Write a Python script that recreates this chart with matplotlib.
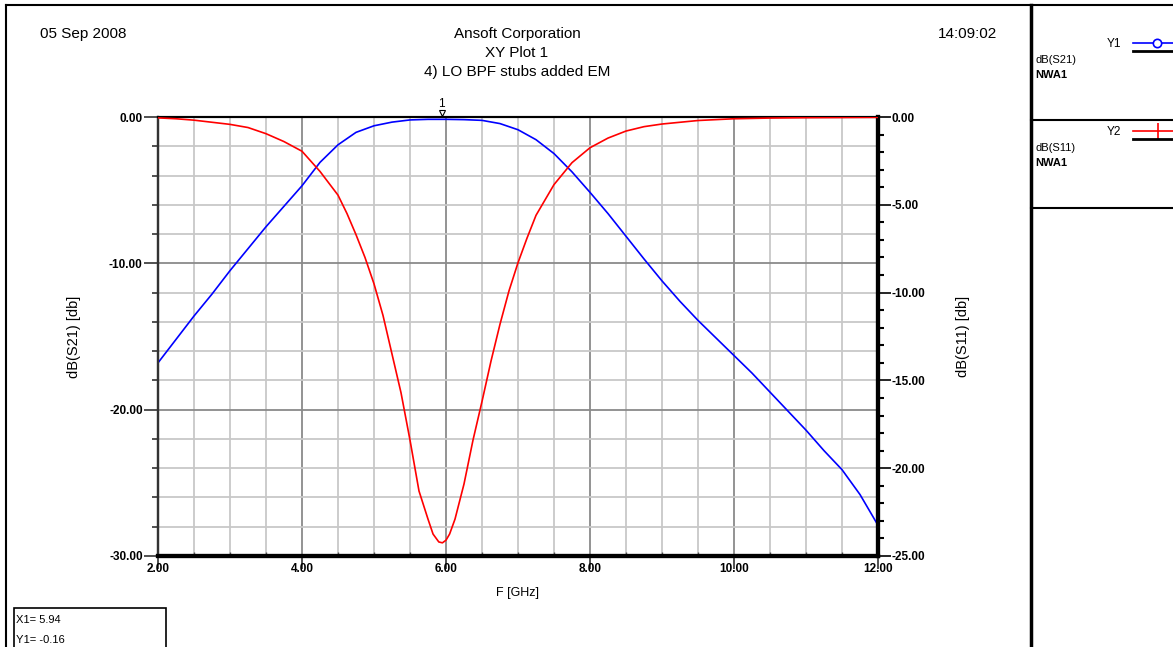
import numpy as np
import matplotlib
matplotlib.use('Agg')
import matplotlib.pyplot as plt
from matplotlib.lines import Line2D
from matplotlib.patches import Rectangle

plt.rcParams['font.family'] = ['Liberation Sans', 'DejaVu Sans']

# dB(S21), left axis
f_s21 = [2.0, 2.25, 2.5, 2.75, 3.0, 3.25, 3.5, 3.75, 4.0, 4.25, 4.5, 4.75,
         5.0, 5.25, 5.5, 5.75, 6.0, 6.25, 6.5, 6.75, 7.0, 7.25, 7.5, 7.75,
         8.0, 8.25, 8.5, 8.75, 9.0, 9.25, 9.5, 9.75, 10.0, 10.25, 10.5,
         10.75, 11.0, 11.25, 11.5, 11.75, 12.0]
s21 = [-16.8, -15.2, -13.6, -12.1, -10.5, -9.0, -7.5, -6.1, -4.7, -3.1,
       -1.9, -1.05, -0.6, -0.35, -0.2, -0.16, -0.16, -0.18, -0.23, -0.45,
       -0.87, -1.55, -2.5, -3.75, -5.15, -6.6, -8.15, -9.7, -11.2, -12.6,
       -13.9, -15.1, -16.3, -17.5, -18.8, -20.1, -21.4, -22.8, -24.1,
       -25.8, -27.9]

# dB(S11), right axis
f_s11 = [2.0, 2.25, 2.5, 2.75, 3.0, 3.25, 3.5, 3.75, 4.0, 4.25, 4.5, 4.625,
         4.75, 4.875, 5.0, 5.125, 5.25, 5.375, 5.5, 5.625, 5.75, 5.82, 5.9,
         5.95, 6.0, 6.05, 6.125, 6.25, 6.375, 6.5, 6.625, 6.75, 6.875, 7.0,
         7.125, 7.25, 7.5, 7.75, 8.0, 8.25, 8.5, 8.75, 9.0, 9.5, 10.0, 10.5,
         11.0, 12.0]
s11 = [-0.05, -0.1, -0.18, -0.3, -0.42, -0.6, -0.95, -1.4, -1.95, -3.1,
       -4.45, -5.5, -6.7, -8.0, -9.5, -11.3, -13.5, -15.7, -18.4, -21.3,
       -22.9, -23.75, -24.2, -24.25, -24.1, -23.75, -22.9, -20.9, -18.4,
       -16.2, -13.9, -11.8, -9.9, -8.3, -6.9, -5.6, -3.85, -2.6, -1.75,
       -1.2, -0.8, -0.55, -0.4, -0.2, -0.1, -0.06, -0.04, -0.02]

marker_x = 5.94
marker_y = -0.16

W, H = 1173, 647
fig = plt.figure(figsize=(W / 100, H / 100), dpi=100)


def fx(x):
    return x / W


def fy(y):
    return 1 - y / H


def fline(x0, y0, x1, y1, lw=1.5, color='black'):
    fig.add_artist(Line2D([fx(x0), fx(x1)], [fy(y0), fy(y1)], lw=lw,
                          color=color, transform=fig.transFigure))


ax = fig.add_axes([fx(158), fy(556), fx(878) - fx(158), fy(117) - fy(556)])
ax2 = ax.twinx()

ax.plot(f_s21, s21, color='#0000ff', lw=1.2, zorder=3)
ax2.plot(f_s11, s11, color='#ff0000', lw=1.2, zorder=3)

ax.set_xlim(2, 12)
ax.set_ylim(-30, 0)
ax2.set_ylim(-25, 0)

ax.set_xticks(np.arange(2, 12.01, 2))
ax.set_xticks(np.arange(2, 12.01, 0.5), minor=True)
ax.set_xticklabels(['%.2f' % v for v in np.arange(2, 12.01, 2)])
ax.set_yticks(np.arange(-30, 0.01, 10))
ax.set_yticks(np.arange(-30, 0.01, 2), minor=True)
ax.set_yticklabels(['%.2f' % v for v in np.arange(-30, 0.01, 10)])
ax2.set_yticks(np.arange(-25, 0.01, 5))
ax2.set_yticks(np.arange(-25, 0.01, 1), minor=True)
ax2.set_yticklabels(['%.2f' % v for v in np.arange(-25, 0.01, 5)])

ax.grid(which='minor', color='#c8c8c8', lw=1.3, zorder=0)
ax.grid(which='major', color='#8a8a8a', lw=1.3, zorder=0)
ax.set_axisbelow(True)

for lab in ax.get_xticklabels() + ax.get_yticklabels() + ax2.get_yticklabels():
    lab.set_fontsize(8.5)
    lab.set_fontweight('bold')

ax.tick_params(axis='x', which='major', direction='out', length=9, width=1.2,
               pad=-4, color='#333333')
ax.tick_params(axis='x', which='minor', direction='in', length=3, width=1.0,
               color='#555555')
ax.tick_params(axis='y', which='major', direction='out', length=10, width=1.2,
               pad=1, color='#333333')
ax.tick_params(axis='y', which='minor', direction='out', length=4, width=1.2,
               color='#333333')
ax2.tick_params(axis='y', which='major', direction='out', length=9, width=1.2,
                pad=1, color='black')
ax2.tick_params(axis='y', which='minor', direction='out', length=4, width=1.5,
                color='black')

for a in (ax, ax2):
    a.spines['bottom'].set_linewidth(3)
    a.spines['top'].set_linewidth(1.5)
    a.spines['left'].set_linewidth(1.6)
    a.spines['left'].set_color('#333333')
    a.spines['right'].set_linewidth(3)

ax.set_xlabel('F [GHz]', fontsize=9, labelpad=9)
ax.set_ylabel('dB(S21) [db]', fontsize=10.5, labelpad=20)
ax2.set_ylabel('dB(S11) [db]', fontsize=10.5, labelpad=22, rotation=90)

# marker 1 at the top edge
ax.plot([marker_x], [0.25], marker='v', ms=4, mfc='white', mec='black',
        mew=0.8, clip_on=False, zorder=5)
ax.text(marker_x, 0.45, '1', ha='center', va='bottom', fontsize=8.5,
        clip_on=False)

# header texts
hfont = 11
fig.text(fx(40), fy(34), '05 Sep 2008', fontsize=hfont, va='center')
fig.text(fx(517), fy(34), 'Ansoft Corporation', fontsize=hfont, ha='center',
         va='center')
fig.text(fx(517), fy(53), 'XY Plot 1', fontsize=hfont, ha='center',
         va='center')
fig.text(fx(517), fy(72), '4) LO BPF stubs added EM', fontsize=hfont,
         ha='center', va='center')
fig.text(fx(997), fy(34), '14:09:02', fontsize=hfont, ha='right', va='center')

# frames
fline(6, 5, 1173, 5, lw=1.5)
fline(6, 5, 6, 647, lw=1.5)
fline(1031, 5, 1031, 647, lw=2.5)
fline(1031, 120, 1173, 120, lw=1.5)
fline(1031, 208, 1173, 208, lw=1.5)

# legend panel
fig.text(fx(1107), fy(44), 'Y1', fontsize=8.5, va='center')
fig.add_artist(Line2D([fx(1133), fx(1173)], [fy(43), fy(43)], lw=1.2,
                      color='#0000ff', transform=fig.transFigure))
fig.add_artist(Line2D([fx(1157)], [fy(43)], marker='o', ms=6, mfc='white',
                      mec='#0000ff', mew=1.2, transform=fig.transFigure))
fline(1133, 51, 1173, 51, lw=2)
fig.text(fx(1035), fy(60), 'dB(S21)', fontsize=8, va='center')
fig.text(fx(1035), fy(75), 'NWA1', fontsize=8, va='center',
         fontweight='bold')

fig.text(fx(1107), fy(132), 'Y2', fontsize=8.5, va='center')
fig.add_artist(Line2D([fx(1133), fx(1173)], [fy(131), fy(131)], lw=1.2,
                      color='#ff0000', transform=fig.transFigure))
fig.add_artist(Line2D([fx(1158)], [fy(131)], marker='|', ms=12,
                      mec='#ff0000', mew=1.2, transform=fig.transFigure))
fline(1133, 139, 1173, 139, lw=2)
fig.text(fx(1035), fy(148), 'dB(S11)', fontsize=8, va='center')
fig.text(fx(1035), fy(163), 'NWA1', fontsize=8, va='center',
         fontweight='bold')

# marker readout box
fig.add_artist(Rectangle((fx(14), fy(660)), fx(166) - fx(14), fy(608) - fy(660),
                         fill=False, lw=1.2, ec='black',
                         transform=fig.transFigure))
fig.text(fx(16), fy(620), 'X1= %.2f' % marker_x, fontsize=8, va='center')
fig.text(fx(16), fy(640), 'Y1= %.2f' % marker_y, fontsize=8, va='center')

fig.savefig('out.png', dpi=100)
